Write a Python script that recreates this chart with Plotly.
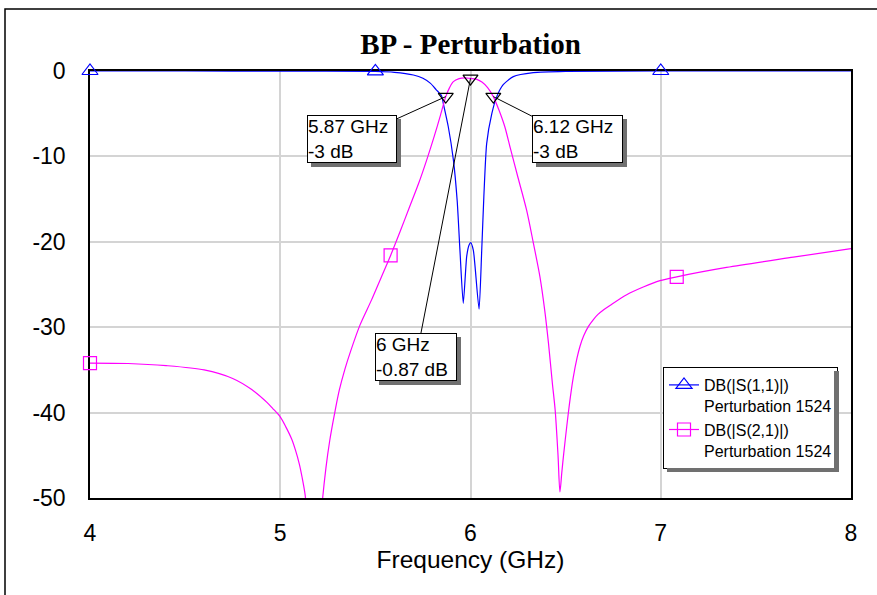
import plotly.graph_objects as go

# ---------------- data ----------------
freq_s21 = [4.00, 4.20, 4.40, 4.60, 4.75, 4.85, 4.93, 4.96, 5.00, 5.03, 5.06, 5.08, 5.10, 5.115,
            5.13, 5.16, 5.19, 5.218, 5.24, 5.26, 5.284, 5.31, 5.34, 5.37, 5.42, 5.48, 5.53,
            5.58, 5.63, 5.68, 5.73, 5.77, 5.81, 5.84, 5.87, 5.89, 5.91, 5.94, 5.97, 6.00,
            6.03, 6.06, 6.09, 6.12, 6.15, 6.18, 6.21, 6.25, 6.295, 6.33, 6.365, 6.39, 6.41,
            6.43, 6.445, 6.46, 6.47, 6.48, 6.49, 6.506, 6.52, 6.54, 6.56, 6.576, 6.595, 6.62,
            6.646, 6.67, 6.70, 6.733, 6.821, 6.908, 6.996, 7.084, 7.346, 7.697, 8.00]
s21_db = [-34.2, -34.25, -34.5, -35.0, -36.0, -37.3, -38.8, -39.5, -40.5, -41.7, -43.1, -44.4, -46.0, -47.6,
          -49.5, -56.0, -60.0, -51.2, -46.5, -43.3, -40.3, -37.4, -34.9, -32.8, -29.7, -26.8, -24.2,
          -21.6, -18.8, -15.9, -13.0, -10.4, -7.6, -5.35, -3.0, -1.95, -1.25, -0.9, -0.8, -0.87,
          -0.95, -1.3, -1.95, -3.0, -4.6, -6.5, -9.1, -12.5, -16.3, -20.1, -24.1, -28.0, -31.9,
          -36.5, -39.7, -45.0, -49.3, -47.0, -44.8, -41.6, -39.0, -35.9, -33.6, -32.2, -31.0, -29.9,
          -29.1, -28.5, -27.95, -27.45, -26.2, -25.3, -24.55, -24.1, -23.0, -21.8, -20.8]

freq_s11 = [4.00, 4.50, 5.00, 5.50, 5.60, 5.70, 5.75, 5.79, 5.82, 5.848, 5.857, 5.883, 5.91,
            5.93, 5.945, 5.962, 5.98, 5.992, 6.001, 6.015, 6.024, 6.045, 6.059, 6.07, 6.085,
            6.112, 6.138, 6.172, 6.225, 6.33, 6.50, 7.00, 7.50, 8.00]
s11_db = [0.0, 0.0, -0.02, -0.05, -0.15, -0.47, -0.85, -1.45, -2.2, -2.9, -3.8, -6.5, -10.4,
          -15.2, -21.2, -27.2, -21.7, -20.4, -20.1, -21.0, -22.9, -27.9, -21.0, -14.8, -8.5,
          -5.0, -3.0, -1.6, -0.66, -0.2, -0.05, 0.0, 0.0, 0.0]

s11_marker_freq = [4.00, 5.50, 7.00]
s21_marker_freq = [4.00, 5.58, 7.084]

mk_freq = [5.87, 6.00, 6.12]
mk_db = [-3.0, -0.87, -3.0]
mk_labels = ["5.87 GHz<br>-3 dB", "6 GHz<br>-0.87 dB", "6.12 GHz<br>-3 dB"]
mk_box_x = [5.375, 5.715, 6.563]
mk_box_y = [-8.0, -33.5, -8.0]
mk_box_w = [88, 80, 89]

x_ticks = [4, 5, 6, 7, 8]
y_ticks = [0, -10, -20, -30, -40, -50]
y_tick_text = ["0", "-10", "-20", "-30", "-40", "-50"]

name_s11 = "DB(|S(1,1)|)<br>Perturbation 1524"
name_s21 = "DB(|S(2,1)|)<br>Perturbation 1524"

FONT = "Liberation Sans, Arial, sans-serif"
SHADOW = "#707070"

fig = go.Figure()

sel11 = [i for i, f in enumerate(freq_s11) if f in s11_marker_freq]
sel21 = [i for i, f in enumerate(freq_s21) if f in s21_marker_freq]

fig.add_trace(go.Scatter(
    x=freq_s11, y=s11_db, name=name_s11, mode="lines+markers",
    line=dict(color="#0000ff", width=1.2, shape="spline", smoothing=0.6),
    marker=dict(symbol="triangle-up-open", color="#0000ff", size=14,
                line=dict(width=1.2, color="#0000ff")),
    selectedpoints=sel11, unselected=dict(marker=dict(opacity=0)),
    selected=dict(marker=dict(opacity=1)),
    cliponaxis=False,
))
fig.add_trace(go.Scatter(
    x=freq_s21, y=s21_db, name=name_s21, mode="lines+markers",
    line=dict(color="#ff00ff", width=1.2, shape="spline", smoothing=0.8),
    marker=dict(symbol="square-open", color="#ff00ff", size=13,
                line=dict(width=1.2, color="#ff00ff")),
    selectedpoints=sel21, unselected=dict(marker=dict(opacity=0)),
    selected=dict(marker=dict(opacity=1)),
    cliponaxis=False,
))
fig.add_trace(go.Scatter(
    x=mk_freq, y=mk_db, mode="markers", showlegend=False,
    marker=dict(symbol="triangle-down-open", size=13, color="black",
                line=dict(width=1.2, color="black")),
    cliponaxis=False,
))

annotations = []
for fx, fy, bx, by, txt, w in zip(mk_freq, mk_db, mk_box_x, mk_box_y, mk_labels, mk_box_w):
    annotations.append(dict(
        x=bx, y=by, xref="x", yref="y", text=txt, showarrow=False, align="left",
        font=dict(family=FONT, size=19, color=SHADOW), width=w,
        bgcolor=SHADOW, bordercolor=SHADOW, borderwidth=1, borderpad=0,
        xshift=4, yshift=-4,
    ))
    annotations.append(dict(
        x=fx, y=fy, xref="x", yref="y", ax=bx, ay=by, axref="x", ayref="y",
        text=txt, showarrow=True, arrowhead=0, arrowwidth=1, arrowcolor="black",
        standoff=0, align="left", width=w,
        font=dict(family=FONT, size=19, color="black"),
        bgcolor="white", bordercolor="black", borderwidth=1, borderpad=0,
    ))

def px_x(p):
    return (p - 90) / 761.0

def px_y(p):
    return (498 - p) / 427.0

# legend drop shadow: two strips along the right and bottom edges of the legend box
annotations.append(dict(
    x=px_x(834), y=px_y(371), xref="paper", yref="paper", xanchor="left", yanchor="top",
    text="", showarrow=False, width=5, height=101,
    bgcolor=SHADOW, borderwidth=0, borderpad=0,
))
annotations.append(dict(
    x=px_x(667), y=px_y(468), xref="paper", yref="paper", xanchor="left", yanchor="top",
    text="", showarrow=False, width=172, height=4,
    bgcolor=SHADOW, borderwidth=0, borderpad=0,
))

fig.update_layout(
    width=877, height=595,
    margin=dict(l=90, r=26, t=71, b=97),
    paper_bgcolor="white", plot_bgcolor="white",
    title=dict(text="<b>BP - Perturbation</b>", x=0.5, xref="paper", xanchor="center",
               y=1 - 44 / 595, yref="container", yanchor="middle",
               font=dict(family="Liberation Serif, Times New Roman, serif", size=29, color="black")),
    xaxis=dict(range=[4, 8], tickvals=x_ticks, showgrid=True, gridcolor="#d4d4d4", gridwidth=1.5,
               showline=True, linecolor="black", linewidth=1.5, mirror=True, zeroline=False,
               ticks="", ticklabelstandoff=14, layer="below traces",
               tickfont=dict(family=FONT, size=23, color="black"),
               title=dict(text="Frequency (GHz)", standoff=6,
                          font=dict(family=FONT, size=24.5, color="black"))),
    yaxis=dict(range=[-50, 0], tickvals=y_ticks, ticktext=y_tick_text, showgrid=True,
               gridcolor="#d4d4d4", gridwidth=1.5,
               showline=True, linecolor="black", linewidth=1.5, mirror=True, zeroline=False,
               ticks="", ticklabelstandoff=18, layer="below traces",
               tickfont=dict(family=FONT, size=23, color="black")),
    legend=dict(x=px_x(663), y=px_y(367), xanchor="left", yanchor="top", valign="top",
                bgcolor="white", bordercolor="black", borderwidth=1,
                font=dict(family=FONT, size=16, color="black"),
                tracegroupgap=0),
    annotations=annotations,
    shapes=[dict(type="rect", xref="paper", yref="paper",
                 x0=px_x(5), x1=1.2, y0=-0.4, y1=px_y(9),
                 line=dict(color="black", width=1.5), layer="below")],
    showlegend=True,
)

fig.write_html("out.html")
